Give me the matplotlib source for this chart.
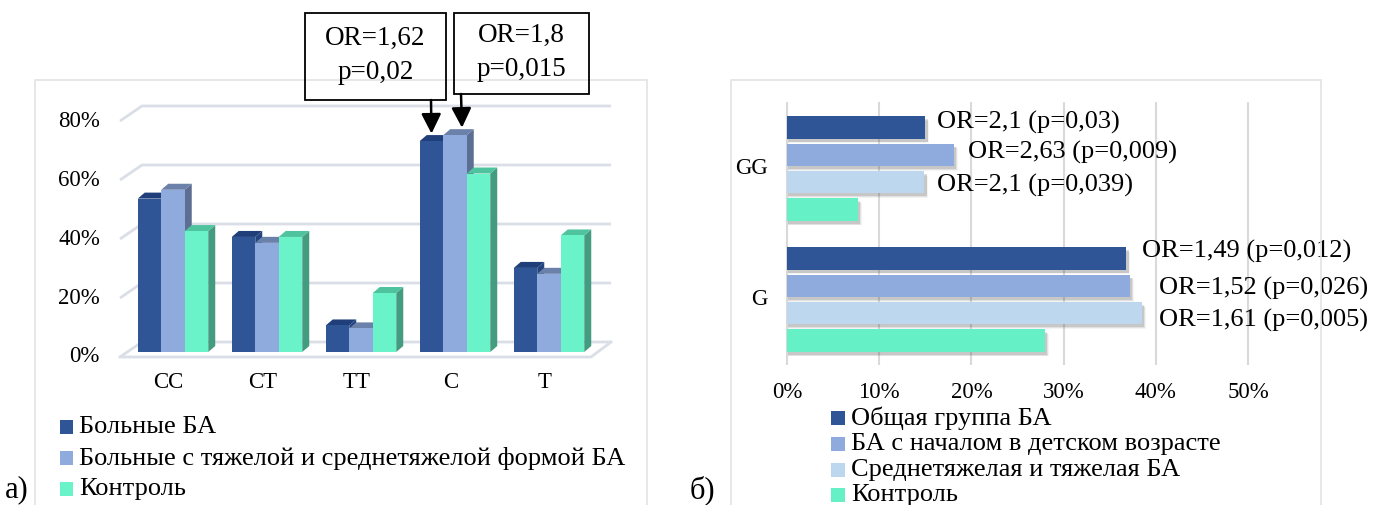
import matplotlib
matplotlib.use("Agg")
import matplotlib.pyplot as plt
from matplotlib.patches import Rectangle, Polygon

plt.rcParams["font.family"] = ["Liberation Serif", "DejaVu Serif"]

W, H = 1386, 505

# --- panel a: genotype / allele frequencies (%) ---
a_categories = ["CC", "CT", "TT", "C", "T"]
a_series = ["Больные БА",
            "Больные с тяжелой и среднетяжелой формой БА",
            "Контроль"]
a_values = [
    [52, 39, 9, 71.5, 28.5],
    [55, 37, 8, 73.5, 26.5],
    [41, 39, 20, 60.5, 39.5],
]
a_yticks = [0, 20, 40, 60, 80]
a_notes = [("OR=1,62\np=0,02", 0, 3), ("OR=1,8\np=0,015", 1, 3)]

# --- panel б: G allele and GG genotype (%) ---
b_categories = ["GG", "G"]
b_series = ["Общая группа БА",
            "БА с началом в детском возрасте",
            "Среднетяжелая и тяжелая БА",
            "Контроль"]
b_values = [
    [15.0, 36.8],
    [18.1, 37.2],
    [14.9, 38.5],
    [7.7, 28.0],
]
b_labels = [
    ["OR=2,1 (p=0,03)", "OR=1,49 (p=0,012)"],
    ["OR=2,63 (p=0,009)", "OR=1,52 (p=0,026)"],
    ["OR=2,1 (p=0,039)", "OR=1,61 (p=0,005)"],
]
b_xticks = [0, 10, 20, 30, 40, 50]

a_front = ["#2F5597", "#8FAADC", "#6AF2C8"]
a_top = ["#203F7A", "#6B81AA", "#4EC39E"]
a_side = ["#24447F", "#5C6F93", "#449C80"]
b_colors = ["#2F5597", "#8FAADC", "#BDD7EE", "#66F0C6"]


def fig_box(x0, y0, x1, y1):
    return [x0 / W, 1 - y1 / H, (x1 - x0) / W, (y1 - y0) / H]


def fpt(x, y):
    return x / W, 1 - y / H


fig = plt.figure(figsize=(W / 100, H / 100), dpi=100)
fig.patch.set_facecolor("white")

# light outer frames of both charts
for x0, x1 in [(35, 647), (731, 1321)]:
    fig.patches.append(Rectangle(fpt(x0, 600), (x1 - x0) / W, 520 / H,
                                 transform=fig.transFigure, fill=False,
                                 edgecolor="#E3E3E3", lw=1.2))

# ---------------- panel a ----------------
gx0, gpx = 173, 94.0      # group centre pixel, pixels per group
y0px, ypx = 352, 2.95     # baseline pixel, pixels per percent
ax = fig.add_axes(fig_box(40, 90, 640, 400))
ax.set_xlim((40 - gx0) / gpx, (640 - gx0) / gpx)
ax.set_ylim((y0px - 400) / ypx, (y0px - 90) / ypx)
ax.axis("off")

w = 0.25
dx, dy = 7 / gpx, 6 / ypx
back, front = 10 / ypx, -5 / ypx
xl_front, xl_back = -0.564, -0.33
xr_back = 4.66
grid_c = "#DADEE6"
for v in a_yticks:
    ax.plot([xl_front, xl_back, xr_back], [v + front, v + back, v + back],
            color=grid_c, lw=2, solid_capstyle="butt", zorder=1)
    ax.text(-0.777, v + front, f"{v}%", ha="right", va="center", fontsize=16.5)
ax.plot([xl_front, 4.447, xr_back], [front, front, back],
        color=grid_c, lw=2, zorder=1)

for i, cat in enumerate(a_categories):
    for j in range(3):
        v = a_values[j][i]
        left = i + (j - 1.5) * w
        ax.add_patch(Polygon([(left + w, 0), (left + w, v),
                              (left + w + dx, v + dy), (left + w + dx, dy)],
                             closed=True, color=a_side[j], lw=0, zorder=2 + j))
        ax.add_patch(Polygon([(left, v), (left + w, v),
                              (left + w + dx, v + dy), (left + dx, v + dy)],
                             closed=True, color=a_top[j], lw=0, zorder=2 + j))
        ax.bar(left, v, width=w, align="edge", color=a_front[j], lw=0,
               zorder=2 + j)
    ax.text(i - 0.05, -10.4, cat, ha="center", va="center", fontsize=16.5)

# OR boxes with arrows
boxes = [(305, 13, 446, 100, 431), (454, 13, 589, 94, 461)]
for (text, j, i), (bx0, by0, bx1, by1, ax_px) in zip(a_notes, boxes):
    fig.patches.append(Rectangle(fpt(bx0, by1), (bx1 - bx0) / W,
                                 (by1 - by0) / H, transform=fig.transFigure,
                                 fill=False, edgecolor="black", lw=1.3))
    fig.text((bx0 + bx1) / 2 / W, 1 - (by0 + by1 - 2) / 2 / H, text,
             ha="center", va="center", fontsize=19.5, linespacing=1.5)
    v = a_values[j][i]
    tip_x = i + (j - 1.5) * w + w / 2 + j * dx
    ax.annotate("", xy=(tip_x, v + dy + 0.5),
                xytext=fpt(ax_px, by1), textcoords="figure fraction",
                arrowprops=dict(arrowstyle="-|>", color="black", lw=1.8,
                                mutation_scale=30, shrinkA=0, shrinkB=0),
                zorder=10)

# legend a
for k, name in enumerate(a_series):
    yc = 427 + 31 * k
    fig.patches.append(Rectangle(fpt(60, yc + 7), 13 / W, 14 / H,
                                 transform=fig.transFigure,
                                 color=a_front[k], lw=0))
    fig.text(79 / W, 1 - yc / H, name, ha="left", va="center", fontsize=19)
fig.text(5 / W, 1 - 490 / H, "а)", ha="left", va="center", fontsize=22)

# ---------------- panel б ----------------
x0px, xpx = 787, 9.22     # 0 % pixel, pixels per percent
yc0, gsp = 168.5, 131.0   # GG centre pixel, pixels between groups
bx = fig.add_axes(fig_box(740, 102, 1380, 365))
bx.set_xlim((740 - x0px) / xpx, (1380 - x0px) / xpx)
bx.set_ylim((365 - yc0) / gsp, (102 - yc0) / gsp)
bx.axis("off")

for t in b_xticks:
    bx.plot([t, t], [(365 - yc0) / gsp, (102 - yc0) / gsp],
            color="#D9D9D9", lw=1.5, zorder=1)
    bx.text(t, (393 - yc0) / gsp, f"{t}%", ha="center", va="center",
            fontsize=16.5, clip_on=False)

step = 27.4 / gsp
bh = 22.5 / gsp
sy = 3 / gsp
label_x = [[16.3, 38.5], [19.6, 40.3], [16.3, 40.3]]
label_dy = [[-5, -7], [-2.5, 2.5], [3, 7]]
for j, name in enumerate(b_series):
    for i in range(len(b_categories)):
        v = b_values[j][i]
        yc = i + (j - 1.5) * step
        # soft shadow under each bar
        for k, a in enumerate([0.16, 0.1, 0.06]):
            bx.barh(yc + sy + k * 0.006, v + 0.15 + k * 0.08, height=bh,
                    left=0.1, color="#444444", alpha=a, lw=0, zorder=2)
        bx.barh(yc, v, height=bh, color=b_colors[j], lw=0, zorder=3)
        if j < len(b_labels):
            bx.text(label_x[j][i], yc + label_dy[j][i] / gsp, b_labels[j][i],
                    ha="left", va="center", fontsize=19, zorder=5,
                    clip_on=False)

for i, cat in enumerate(b_categories):
    bx.text((768 - x0px) / xpx, i, cat, ha="right", va="center", fontsize=16.5)

# legend б
for k, name in enumerate(b_series):
    yc = 418 + 25.8 * k
    fig.patches.append(Rectangle(fpt(831, yc + 7), 14 / W, 14 / H,
                                 transform=fig.transFigure,
                                 color=b_colors[k], lw=0))
    fig.text(851 / W, 1 - yc / H, name, ha="left", va="center", fontsize=19)
fig.text(690 / W, 1 - 490 / H, "б)", ha="left", va="center", fontsize=22)

fig.savefig("out.png", dpi=100)
